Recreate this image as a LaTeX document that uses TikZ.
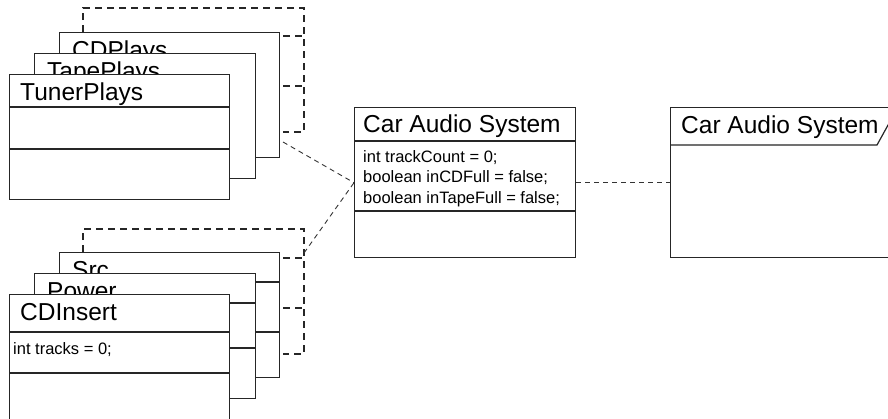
\documentclass[tikz,border=0pt]{standalone}
\usepackage{fontspec}
\setmainfont{Liberation Sans}
\usetikzlibrary{positioning}

\tikzset{
    classbox/.style={draw=black!85, line width=1.4pt, fill=white, inner sep=0pt,
        anchor=north west, minimum width=#1, minimum height=125pt},
    classbox/.default=220pt,
    title/.style={anchor=base west, inner sep=0pt, font=\fontsize{24.5}{28}\selectfont},
    attr/.style={anchor=base west, inner sep=0pt, align=left,
        font=\fontsize{16.5}{20.5}\selectfont},
    divider/.style={draw=black!85, line width=1.2pt},
    backbox/.style={draw=black!85, line width=1.3pt, dash pattern=on 7pt off 5pt},
    link/.style={draw=black!80, line width=0.9pt, dash pattern=on 5pt off 4pt}
}

\begin{document}
\begin{tikzpicture}[x=1pt, y=-1pt]
                \useasboundingbox (0,0) rectangle (888,418);

                % upper stack
                \draw[backbox] (83,32) -- (83,8) -- (304,8) -- (304,132) -- (283,132);
                \draw[backbox] (283,36) -- (304,36);
                \draw[backbox] (283,86) -- (304,86);
                \node[classbox] (cdplays) at (59,32) {};
                \node[title] (cdplays title) at (72,58) {CDPlays};
                \node[classbox=221pt] (tapeplays) at (34,53) {};
                \node[title] (tapeplays title) at (47,79) {TapePlays};
                \node[classbox] (tunerplays) at (9,74) {};
                \node[title] (tunerplays title) at (20,100) {TunerPlays};
                \draw[divider] (9,107) -- (229,107);
                \draw[divider] (9,149) -- (229,149);
                \coordinate (upper out) at (283,142);

                % lower stack
                \draw[backbox] (83,252) -- (83,229) -- (304,229) -- (304,354) -- (283,354);
                \draw[backbox] (283,258) -- (304,258);
                \draw[backbox] (283,308) -- (304,308);
                \node[classbox] (src) at (59,252) {};
                \node[title] (src title) at (72,278) {Src};
                \draw[divider] (59,282) -- (279,282);
                \draw[divider] (59,332) -- (279,332);
                \node[classbox=221pt] (power) at (34,273) {};
                \node[title] (power title) at (47,299) {Power};
                \draw[divider] (34,303) -- (255,303);
                \draw[divider] (34,348) -- (255,348);
                \node[classbox] (cdinsert) at (9,294) {};
                \node[title] (cdinsert title) at (20,320) {CDInsert};
                \draw[divider] (9,332) -- (229,332);
                \draw[divider] (9,373) -- (229,373);
                \node[attr] (cdinsert attr) at (13,354) {int tracks = 0;};
                \coordinate (lower out) at (304,253);

                % system class
                \node[classbox=221pt, minimum height=150pt] (system) at (354,107) {};
                \node[title] (system title) at (363,132) {Car Audio System};
                \draw[divider] (354,141) -- (575,141);
                \draw[divider] (354,211) -- (575,211);
                \node[attr, anchor=north west] (system attr) at (363,150)
                    {int trackCount = 0;\\boolean inCDFull = false;\\boolean inTapeFull = false;};

                % system package
                \node[classbox=240pt, minimum height=150pt] (package) at (670,107) {};
                \draw[divider] (670,145) -- (877,145) -- (898,107);
                \node[title] (package title) at (681,133) {Car Audio System};

                \draw[link] (upper out) -- (system.west);
                \draw[link] (lower out) -- (system.west);
                \draw[link] (system.east) -- (package.west);
            \end{tikzpicture}
\end{document}
